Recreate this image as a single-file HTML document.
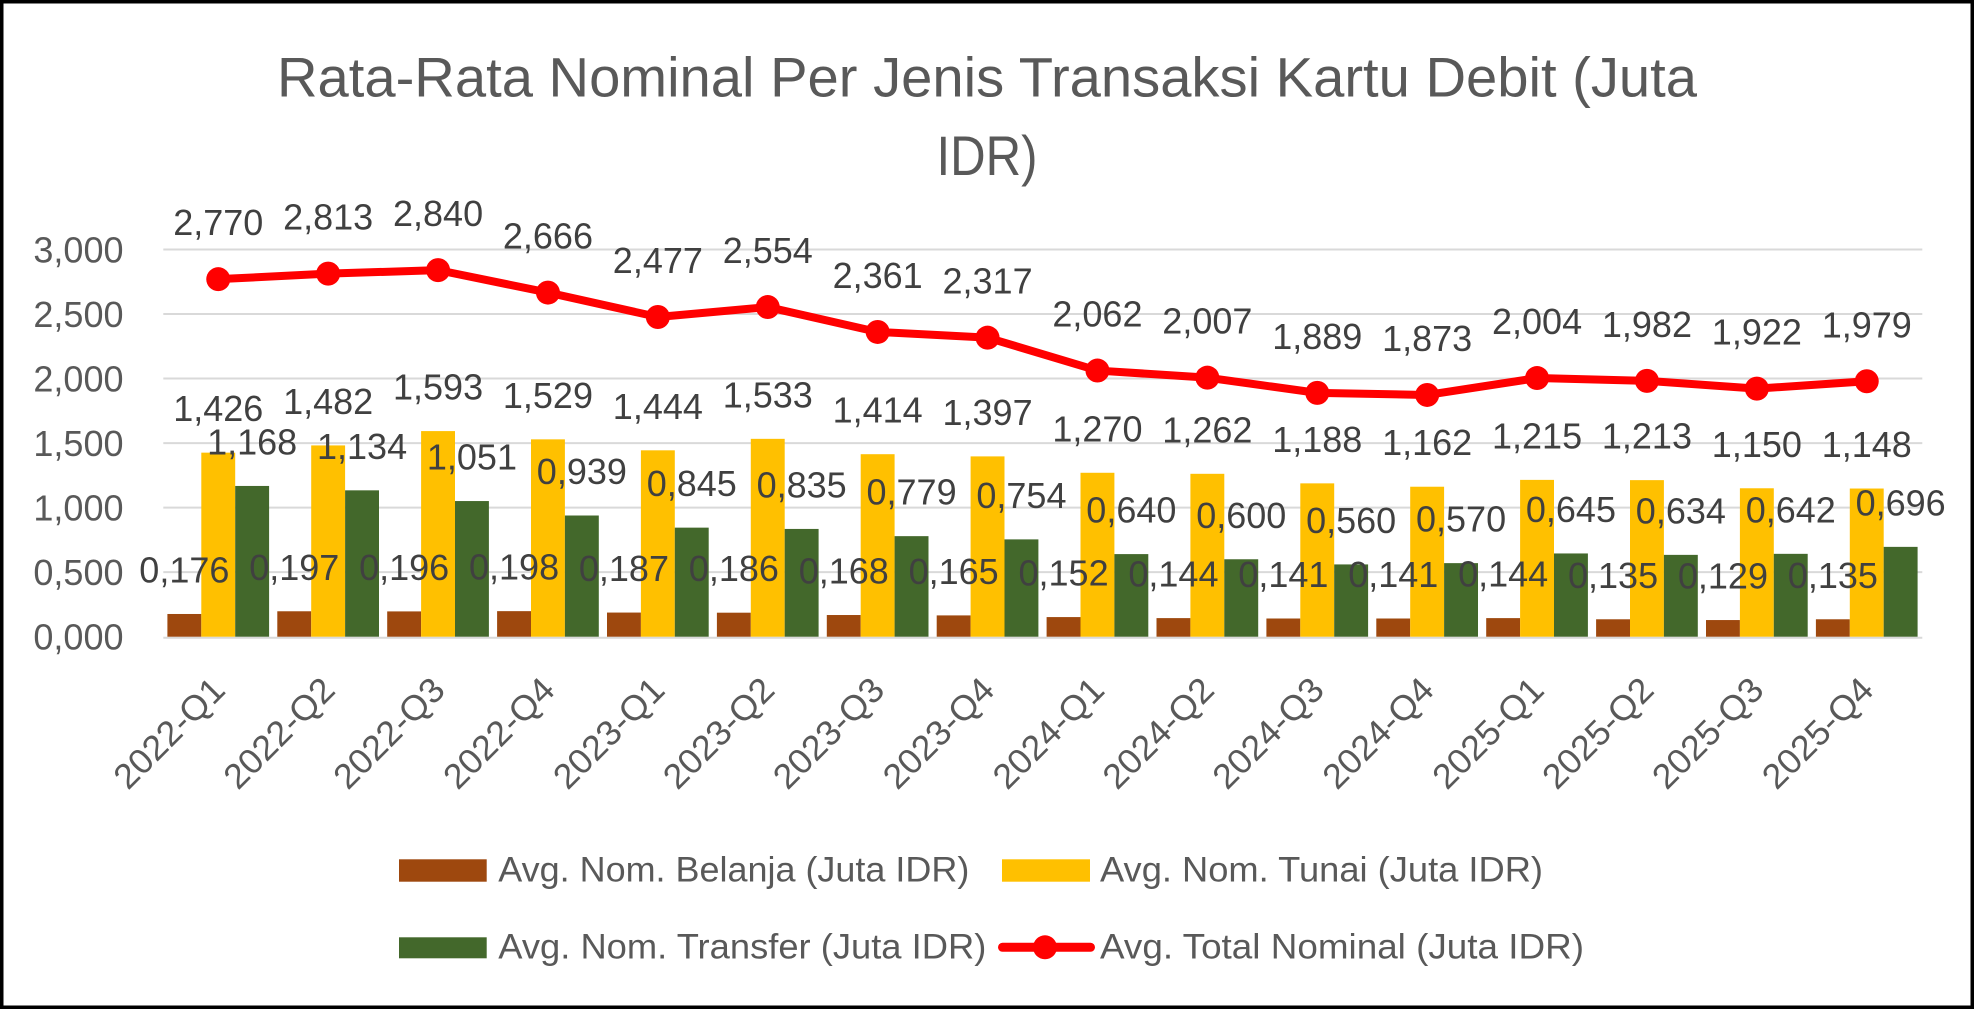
<!DOCTYPE html>
<html>
<head>
<meta charset="utf-8">
<style>
html,body{margin:0;padding:0;background:#fff;}
svg{display:block;}
text{font-family:"Liberation Sans",Arial,sans-serif;}
.ax{font-size:36px;fill:#595959;text-anchor:end;}
.dl{font-size:36px;fill:#404040;text-anchor:middle;}
.xl{font-size:35px;fill:#595959;text-anchor:end;}
.lg{font-size:35px;fill:#595959;}
.br{fill:#9E480E;}
.ye{fill:#FFC000;}
.gr{fill:#43682B;}
</style>
</head>
<body>
<svg width="1974" height="1009" viewBox="0 0 1974 1009" xmlns="http://www.w3.org/2000/svg">
<rect x="1.75" y="1.75" width="1970.5" height="1005.5" fill="#fff" stroke="#000" stroke-width="3.5"/>

<!-- title -->
<text x="987" y="96.7" text-anchor="middle" font-size="56" fill="#595959" textLength="1420" lengthAdjust="spacingAndGlyphs">Rata-Rata Nominal Per Jenis Transaksi Kartu Debit (Juta</text>
<text x="987" y="175" text-anchor="middle" font-size="56" fill="#595959" textLength="101" lengthAdjust="spacingAndGlyphs">IDR)</text>

<!-- gridlines -->
<g stroke="#D9D9D9" stroke-width="2">
<line x1="163.3" y1="249.49" x2="1922.3" y2="249.49"/>
<line x1="163.3" y1="314.03" x2="1922.3" y2="314.03"/>
<line x1="163.3" y1="378.56" x2="1922.3" y2="378.56"/>
<line x1="163.3" y1="443.1" x2="1922.3" y2="443.1"/>
<line x1="163.3" y1="507.63" x2="1922.3" y2="507.63"/>
<line x1="163.3" y1="572.17" x2="1922.3" y2="572.17"/>
<line x1="163.3" y1="637.7" x2="1922.3" y2="637.7"/>
</g>

<!-- axis labels -->
<text class="ax" x="123.5" y="262.3">3,000</text>
<text class="ax" x="123.5" y="326.8">2,500</text>
<text class="ax" x="123.5" y="391.4">2,000</text>
<text class="ax" x="123.5" y="455.9">1,500</text>
<text class="ax" x="123.5" y="520.4">1,000</text>
<text class="ax" x="123.5" y="585.0">0,500</text>
<text class="ax" x="123.5" y="649.5">0,000</text>

<!-- brown bars -->
<g class="br">
<rect x="167.4" y="613.98" width="33.9" height="22.72"/>
<rect x="277.3" y="611.27" width="33.9" height="25.43"/>
<rect x="387.2" y="611.40" width="33.9" height="25.30"/>
<rect x="497.1" y="611.14" width="33.9" height="25.56"/>
<rect x="607.0" y="612.56" width="33.9" height="24.14"/>
<rect x="716.9" y="612.69" width="33.9" height="24.01"/>
<rect x="826.8" y="615.02" width="33.9" height="21.68"/>
<rect x="936.7" y="615.40" width="33.9" height="21.30"/>
<rect x="1046.6" y="617.08" width="33.9" height="19.62"/>
<rect x="1156.5" y="618.11" width="33.9" height="18.59"/>
<rect x="1266.4" y="618.50" width="33.9" height="18.20"/>
<rect x="1376.3" y="618.50" width="33.9" height="18.20"/>
<rect x="1486.2" y="618.11" width="33.9" height="18.59"/>
<rect x="1596.1" y="619.28" width="33.9" height="17.42"/>
<rect x="1706.0" y="620.05" width="33.9" height="16.65"/>
<rect x="1815.9" y="619.28" width="33.9" height="17.42"/>
</g>
<!-- yellow bars -->
<g class="ye">
<rect x="201.3" y="452.65" width="33.9" height="184.05"/>
<rect x="311.2" y="445.42" width="33.9" height="191.28"/>
<rect x="421.1" y="431.09" width="33.9" height="205.61"/>
<rect x="531.0" y="439.35" width="33.9" height="197.35"/>
<rect x="640.9" y="450.32" width="33.9" height="186.38"/>
<rect x="750.8" y="438.84" width="33.9" height="197.86"/>
<rect x="860.7" y="454.20" width="33.9" height="182.50"/>
<rect x="970.6" y="456.39" width="33.9" height="180.31"/>
<rect x="1080.5" y="472.78" width="33.9" height="163.92"/>
<rect x="1190.4" y="473.81" width="33.9" height="162.89"/>
<rect x="1300.3" y="483.36" width="33.9" height="153.34"/>
<rect x="1410.2" y="486.72" width="33.9" height="149.98"/>
<rect x="1520.1" y="479.88" width="33.9" height="156.82"/>
<rect x="1630.0" y="480.14" width="33.9" height="156.56"/>
<rect x="1739.9" y="488.27" width="33.9" height="148.43"/>
<rect x="1849.8" y="488.53" width="33.9" height="148.17"/>
</g>
<!-- green bars -->
<g class="gr">
<rect x="235.2" y="485.95" width="33.9" height="150.75"/>
<rect x="345.1" y="490.33" width="33.9" height="146.37"/>
<rect x="455.0" y="501.05" width="33.9" height="135.65"/>
<rect x="564.9" y="515.50" width="33.9" height="121.20"/>
<rect x="674.8" y="527.64" width="33.9" height="109.06"/>
<rect x="784.7" y="528.93" width="33.9" height="107.77"/>
<rect x="894.6" y="536.15" width="33.9" height="100.55"/>
<rect x="1004.5" y="539.38" width="33.9" height="97.32"/>
<rect x="1114.4" y="554.10" width="33.9" height="82.60"/>
<rect x="1224.3" y="559.26" width="33.9" height="77.44"/>
<rect x="1334.2" y="564.42" width="33.9" height="72.28"/>
<rect x="1444.1" y="563.13" width="33.9" height="73.57"/>
<rect x="1554.0" y="553.45" width="33.9" height="83.25"/>
<rect x="1663.9" y="554.87" width="33.9" height="81.83"/>
<rect x="1773.8" y="553.84" width="33.9" height="82.86"/>
<rect x="1883.7" y="546.87" width="33.9" height="89.83"/>
</g>

<!-- total line -->
<polyline fill="none" stroke="#FF0000" stroke-width="8" stroke-linejoin="round" points="218.25,279.18 328.15,273.63 438.05,270.14 547.95,292.60 657.85,316.99 767.75,307.06 877.65,331.97 987.55,337.65 1097.45,370.56 1207.35,377.66 1317.25,392.89 1427.15,394.95 1537.05,378.04 1646.95,380.88 1756.85,388.63 1866.75,381.27"/>
<g fill="#FF0000">
<circle cx="218.25" cy="279.18" r="12"/>
<circle cx="328.15" cy="273.63" r="12"/>
<circle cx="438.05" cy="270.14" r="12"/>
<circle cx="547.95" cy="292.60" r="12"/>
<circle cx="657.85" cy="316.99" r="12"/>
<circle cx="767.75" cy="307.06" r="12"/>
<circle cx="877.65" cy="331.97" r="12"/>
<circle cx="987.55" cy="337.65" r="12"/>
<circle cx="1097.45" cy="370.56" r="12"/>
<circle cx="1207.35" cy="377.66" r="12"/>
<circle cx="1317.25" cy="392.89" r="12"/>
<circle cx="1427.15" cy="394.95" r="12"/>
<circle cx="1537.05" cy="378.04" r="12"/>
<circle cx="1646.95" cy="380.88" r="12"/>
<circle cx="1756.85" cy="388.63" r="12"/>
<circle cx="1866.75" cy="381.27" r="12"/>
</g>

<!-- brown labels -->
<text class="dl" x="184.35" y="582.48">0,176</text>
<text class="dl" x="294.25" y="579.77">0,197</text>
<text class="dl" x="404.15" y="579.90">0,196</text>
<text class="dl" x="514.05" y="579.64">0,198</text>
<text class="dl" x="623.95" y="581.06">0,187</text>
<text class="dl" x="733.85" y="581.19">0,186</text>
<text class="dl" x="843.75" y="583.52">0,168</text>
<text class="dl" x="953.65" y="583.90">0,165</text>
<text class="dl" x="1063.55" y="585.58">0,152</text>
<text class="dl" x="1173.45" y="586.61">0,144</text>
<text class="dl" x="1283.35" y="587.00">0,141</text>
<text class="dl" x="1393.25" y="587.00">0,141</text>
<text class="dl" x="1503.15" y="586.61">0,144</text>
<text class="dl" x="1613.05" y="587.78">0,135</text>
<text class="dl" x="1722.95" y="588.55">0,129</text>
<text class="dl" x="1832.85" y="587.78">0,135</text>

<!-- yellow labels -->
<text class="dl" x="218.25" y="421.15">1,426</text>
<text class="dl" x="328.15" y="413.92">1,482</text>
<text class="dl" x="438.05" y="399.59">1,593</text>
<text class="dl" x="547.95" y="407.85">1,529</text>
<text class="dl" x="657.85" y="418.82">1,444</text>
<text class="dl" x="767.75" y="407.34">1,533</text>
<text class="dl" x="877.65" y="422.70">1,414</text>
<text class="dl" x="987.55" y="424.89">1,397</text>
<text class="dl" x="1097.45" y="441.28">1,270</text>
<text class="dl" x="1207.35" y="442.31">1,262</text>
<text class="dl" x="1317.25" y="451.86">1,188</text>
<text class="dl" x="1427.15" y="455.22">1,162</text>
<text class="dl" x="1537.05" y="448.38">1,215</text>
<text class="dl" x="1646.95" y="448.64">1,213</text>
<text class="dl" x="1756.85" y="456.77">1,150</text>
<text class="dl" x="1866.75" y="457.03">1,148</text>

<!-- green labels -->
<text class="dl" x="252.15" y="454.45">1,168</text>
<text class="dl" x="362.05" y="458.83">1,134</text>
<text class="dl" x="471.95" y="469.55">1,051</text>
<text class="dl" x="581.85" y="484.00">0,939</text>
<text class="dl" x="691.75" y="496.14">0,845</text>
<text class="dl" x="801.65" y="497.43">0,835</text>
<text class="dl" x="911.55" y="504.65">0,779</text>
<text class="dl" x="1021.45" y="507.88">0,754</text>
<text class="dl" x="1131.35" y="522.60">0,640</text>
<text class="dl" x="1241.25" y="527.76">0,600</text>
<text class="dl" x="1351.15" y="532.92">0,560</text>
<text class="dl" x="1461.05" y="531.63">0,570</text>
<text class="dl" x="1570.95" y="521.95">0,645</text>
<text class="dl" x="1680.85" y="523.37">0,634</text>
<text class="dl" x="1790.75" y="522.34">0,642</text>
<text class="dl" x="1900.65" y="515.37">0,696</text>

<!-- total labels -->
<text class="dl" x="218.25" y="235.18">2,770</text>
<text class="dl" x="328.15" y="229.63">2,813</text>
<text class="dl" x="438.05" y="226.14">2,840</text>
<text class="dl" x="547.95" y="248.60">2,666</text>
<text class="dl" x="657.85" y="272.99">2,477</text>
<text class="dl" x="767.75" y="263.06">2,554</text>
<text class="dl" x="877.65" y="287.97">2,361</text>
<text class="dl" x="987.55" y="293.65">2,317</text>
<text class="dl" x="1097.45" y="326.56">2,062</text>
<text class="dl" x="1207.35" y="333.66">2,007</text>
<text class="dl" x="1317.25" y="348.89">1,889</text>
<text class="dl" x="1427.15" y="350.95">1,873</text>
<text class="dl" x="1537.05" y="334.04">2,004</text>
<text class="dl" x="1646.95" y="336.88">1,982</text>
<text class="dl" x="1756.85" y="344.63">1,922</text>
<text class="dl" x="1866.75" y="337.27">1,979</text>

<!-- x axis labels -->
<text class="xl" transform="translate(227.05,692) rotate(-45)" textLength="140" lengthAdjust="spacingAndGlyphs">2022-Q1</text>
<text class="xl" transform="translate(336.95,692) rotate(-45)" textLength="140" lengthAdjust="spacingAndGlyphs">2022-Q2</text>
<text class="xl" transform="translate(446.85,692) rotate(-45)" textLength="140" lengthAdjust="spacingAndGlyphs">2022-Q3</text>
<text class="xl" transform="translate(556.75,692) rotate(-45)" textLength="140" lengthAdjust="spacingAndGlyphs">2022-Q4</text>
<text class="xl" transform="translate(666.65,692) rotate(-45)" textLength="140" lengthAdjust="spacingAndGlyphs">2023-Q1</text>
<text class="xl" transform="translate(776.55,692) rotate(-45)" textLength="140" lengthAdjust="spacingAndGlyphs">2023-Q2</text>
<text class="xl" transform="translate(886.45,692) rotate(-45)" textLength="140" lengthAdjust="spacingAndGlyphs">2023-Q3</text>
<text class="xl" transform="translate(996.35,692) rotate(-45)" textLength="140" lengthAdjust="spacingAndGlyphs">2023-Q4</text>
<text class="xl" transform="translate(1106.25,692) rotate(-45)" textLength="140" lengthAdjust="spacingAndGlyphs">2024-Q1</text>
<text class="xl" transform="translate(1216.15,692) rotate(-45)" textLength="140" lengthAdjust="spacingAndGlyphs">2024-Q2</text>
<text class="xl" transform="translate(1326.05,692) rotate(-45)" textLength="140" lengthAdjust="spacingAndGlyphs">2024-Q3</text>
<text class="xl" transform="translate(1435.95,692) rotate(-45)" textLength="140" lengthAdjust="spacingAndGlyphs">2024-Q4</text>
<text class="xl" transform="translate(1545.85,692) rotate(-45)" textLength="140" lengthAdjust="spacingAndGlyphs">2025-Q1</text>
<text class="xl" transform="translate(1655.75,692) rotate(-45)" textLength="140" lengthAdjust="spacingAndGlyphs">2025-Q2</text>
<text class="xl" transform="translate(1765.65,692) rotate(-45)" textLength="140" lengthAdjust="spacingAndGlyphs">2025-Q3</text>
<text class="xl" transform="translate(1875.55,692) rotate(-45)" textLength="140" lengthAdjust="spacingAndGlyphs">2025-Q4</text>

<!-- legend -->
<rect x="399" y="859.3" width="87.7" height="22.4" fill="#9E480E"/>
<text class="lg" x="498.3" y="881.7" textLength="471" lengthAdjust="spacingAndGlyphs">Avg. Nom. Belanja (Juta IDR)</text>
<rect x="1002" y="859.3" width="88" height="22.4" fill="#FFC000"/>
<text class="lg" x="1100" y="881.7" textLength="443" lengthAdjust="spacingAndGlyphs">Avg. Nom. Tunai (Juta IDR)</text>
<rect x="399" y="937.3" width="87.7" height="21" fill="#43682B"/>
<text class="lg" x="498.3" y="958.3" textLength="488" lengthAdjust="spacingAndGlyphs">Avg. Nom. Transfer (Juta IDR)</text>
<line x1="1002.5" y1="947.3" x2="1090.5" y2="947.3" stroke="#FF0000" stroke-width="9" stroke-linecap="round"/>
<circle cx="1045" cy="947.3" r="12" fill="#FF0000"/>
<text class="lg" x="1100" y="958.3" textLength="484" lengthAdjust="spacingAndGlyphs">Avg. Total Nominal (Juta IDR)</text>
</svg>
</body>
</html>
